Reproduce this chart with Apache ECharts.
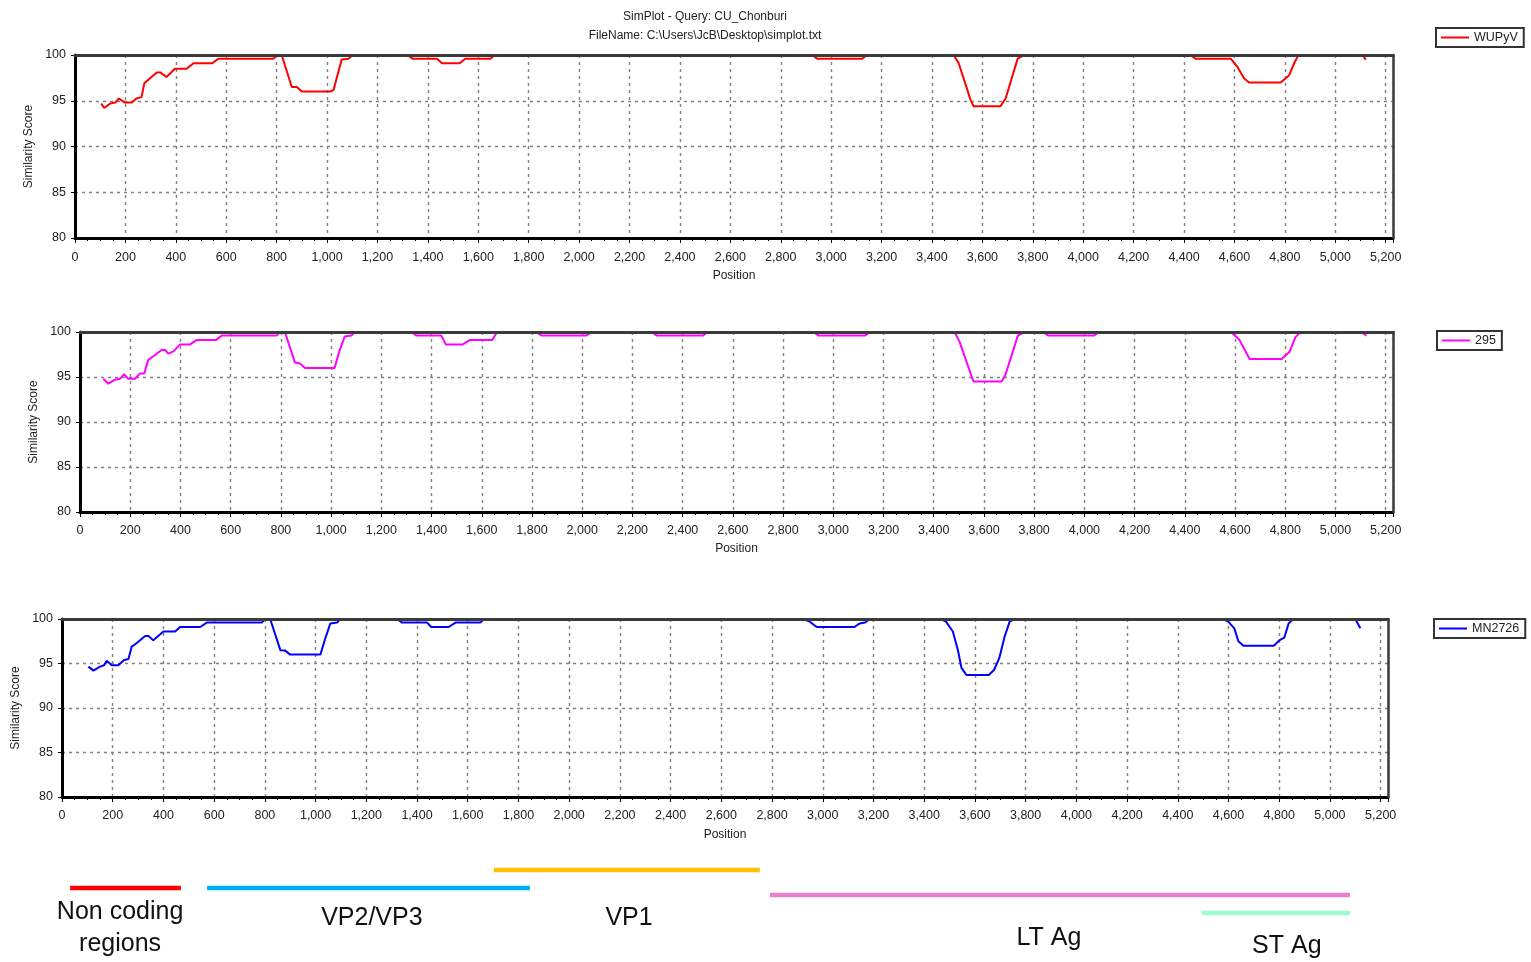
<!DOCTYPE html>
<html>
<head>
<meta charset="utf-8">
<script src="https://cdn.jsdelivr.net/npm/echarts@6/dist/echarts.min.js"></script>
<style>html,body{margin:0;padding:0;background:#fff}#c{width:1531px;height:962px}</style>
</head>
<body>
<div id="c"></div>
<script>
// ---------------- DATA ----------------
const titleText = 'SimPlot - Query: CU_Chonburi';
const fileText = 'FileName: C:\\Users\\JcB\\Desktop\\simplot.txt';
const seriesNames = ['WUPyV', '295', 'MN2726'];
const genomeLength = 5229;
const yMin = 80, yMax = 100, yStep = 5, xStep = 200;

const wupyvPos = [104,116,140,160,174,198,225,244,264,275,291,324,338,363,396,443,470,545,568,788,800,820,860,880,900,1013,1026,1058,1085,1102,1319,1339,1436,1456,1526,1548,1648,1661,1680,2924,2944,3123,3143,3486,3506,3553,3565,3672,3692,3740,3760,3775,4425,4445,4585,4612,4638,4658,4784,4817,4837,4852,4860,5108,5121];
const wupyvSim = [94.7,94.2,94.7,94.8,95.25,94.8,94.8,95.25,95.4,96.9,97.3,98.1,98.1,97.6,98.5,98.5,99.1,99.1,99.6,99.6,100,100,96.5,96.5,96.0,96.0,96.2,99.5,99.6,100,100,99.6,99.6,99.1,99.1,99.6,99.6,99.9,100,100,99.6,99.6,100,100,99.1,95.1,94.4,94.4,95.25,99.6,99.9,100,100,99.6,99.6,98.7,97.45,97.0,97.0,97.8,99.1,99.9,100,100,99.5];

const s295Pos = [93,113,139,159,175,192,219,239,256,272,292,325,339,352,372,398,437,464,541,564,783,796,816,856,876,896,1014,1032,1054,1081,1094,1320,1340,1439,1457,1523,1552,1642,1661,1818,1838,2016,2037,2277,2297,2482,2499,2921,2941,3126,3147,3483,3503,3558,3670,3685,3735,3755,3775,3836,3856,4038,4058,4584,4618,4658,4786,4817,4840,4857,4865,5102,5123];
const s295Sim = [94.8,94.26,94.7,94.8,95.3,94.8,94.8,95.4,95.4,96.9,97.3,98.0,98.0,97.6,97.85,98.6,98.6,99.1,99.1,99.6,99.6,100,100,96.6,96.5,96.0,96.0,97.8,99.5,99.6,100,100,99.6,99.6,98.6,98.6,99.1,99.1,100,100,99.6,99.6,100,100,99.6,99.6,100,100,99.6,99.6,100,100,98.9,94.5,94.5,95.2,99.6,99.9,100,100,99.6,99.6,100,100,99.1,97.0,97.0,97.8,99.4,99.9,100,100,99.6];

const mn2726Pos = [104,124,150,166,176,196,222,245,262,275,295,328,341,360,400,446,466,545,571,788,801,821,861,880,900,1019,1038,1058,1085,1097,1321,1341,1440,1456,1525,1552,1650,1663,2921,2949,2976,3125,3146,3166,3186,3465,3486,3513,3533,3547,3567,3655,3676,3696,3717,3737,3757,4579,4599,4623,4639,4659,4779,4800,4820,4837,4856,5100,5120];
const mn2726Sim = [94.65,94.2,94.65,94.8,95.3,94.8,94.8,95.4,95.5,96.9,97.3,98.1,98.1,97.6,98.6,98.6,99.1,99.1,99.6,99.6,100,100,96.5,96.45,96.0,96.0,97.8,99.5,99.6,100,100,99.6,99.6,99.1,99.1,99.6,99.6,100,100,99.7,99.1,99.1,99.5,99.6,100,100,99.7,98.6,96.5,94.5,93.7,93.7,94.3,95.6,98.0,99.7,100,100,99.7,98.95,97.5,97.0,97.0,97.6,97.9,99.5,100,100,98.95];

const regionNames = ['Non coding\nregions', 'VP2/VP3', 'VP1', 'LT Ag', 'ST Ag'];
const regionStart = [32, 572, 1703, 2792, 4495];
const regionEnd   = [469, 1845, 2752, 5079, 5079];

// ---------------- LAYOUT / STYLE ----------------
const lineColors = ['#ff0000', '#ff00ff', '#0000ff'];
const panels = [
  {left: 75, top: 55,  width: 1318, height: 183, legendLeft: 1436, legendTop: 28, labelMargin: 13, nameGap: 32},
  {left: 80, top: 332, width: 1313, height: 180, legendLeft: 1437, legendTop: 331, labelMargin: 12, nameGap: 31},
  {left: 62, top: 619, width: 1326, height: 178, legendLeft: 1434, legendTop: 619, labelMargin: 12, nameGap: 32}
];
const regionColors = ['#ff0000', '#00b0f0', '#ffc000', '#e97fcb', '#9ffbd0'];
const regionBarOffset = [28, 28, 10, 35, 53];      // px below annotation top
const regionLabelPos = [229, 1222, 2236, 3892, 4830];
const regionLabelOffset = [68, 58, 58, 78, 86];
const FONT = 'Liberation Sans, Arial, sans-serif';

const seriesData = [
  wupyvPos.map((p, k) => [p, wupyvSim[k]]),
  s295Pos.map((p, k) => [p, s295Sim[k]]),
  mn2726Pos.map((p, k) => [p, mn2726Sim[k]])
];

const grids = [], xAxes = [], yAxes = [], series = [], legends = [];
const gridLine = {show: true, lineStyle: {color: '#808080', type: [3, 4], width: 1.4}};
const fmt = v => Number(v).toLocaleString('en-US');

panels.forEach((p, i) => {
  grids.push({left: p.left, top: p.top, width: p.width, height: p.height, show: false});
  xAxes.push({
    type: 'value', gridIndex: i, min: 0, max: genomeLength, interval: xStep, position: 'bottom',
    name: 'Position', nameLocation: 'middle', nameGap: p.nameGap,
    nameTextStyle: {fontSize: 12, color: '#222', fontFamily: FONT},
    axisLine: {show: true, onZero: false, lineStyle: {color: '#000', width: 3}},
    axisTick: {show: true, length: 5, lineStyle: {color: '#000', width: 1}},
    minorTick: {show: true, splitNumber: 4, length: 3, lineStyle: {color: '#000'}},
    axisLabel: {formatter: fmt, showMaxLabel: false, margin: p.labelMargin, fontSize: 12.5, color: '#222', fontFamily: FONT},
    splitLine: gridLine
  });
  xAxes.push({
    type: 'value', gridIndex: i, min: 0, max: genomeLength, position: 'top',
    axisLine: {show: true, onZero: false, lineStyle: {color: '#3a3a3a', width: 3}},
    axisTick: {show: false}, axisLabel: {show: false}, splitLine: {show: false}, zlevel: 1, z: 10
  });
  yAxes.push({
    type: 'value', gridIndex: i, min: yMin, max: yMax, interval: yStep, position: 'left',
    name: 'Similarity Score', nameLocation: 'middle', nameGap: 40,
    nameTextStyle: {fontSize: 12, color: '#222', fontFamily: FONT},
    axisLine: {show: true, onZero: false, lineStyle: {color: '#000', width: 3}},
    axisTick: {show: true, length: 4, lineStyle: {color: '#000'}},
    axisLabel: {margin: 9, fontSize: 12.5, color: '#222', fontFamily: FONT},
    splitLine: gridLine
  });
  yAxes.push({
    type: 'value', gridIndex: i, min: yMin, max: yMax, position: 'right',
    axisLine: {show: true, onZero: false, lineStyle: {color: '#3a3a3a', width: 2.5}},
    axisTick: {show: false}, axisLabel: {show: false}, splitLine: {show: false}, zlevel: 1, z: 10
  });
  series.push({
    name: seriesNames[i], type: 'line', xAxisIndex: 2 * i, yAxisIndex: 2 * i,
    data: seriesData[i], showSymbol: false, symbol: 'none',
    lineStyle: {color: lineColors[i], width: 2}, itemStyle: {color: lineColors[i]}, z: 2
  });
  legends.push({
    data: [seriesNames[i]], left: p.legendLeft, top: p.legendTop, orient: 'horizontal',
    icon: 'rect', itemWidth: 28, itemHeight: 2, itemGap: 4,
    padding: [3, 6, 3, 5], borderColor: '#333', borderWidth: 2, selectedMode: false,
    textStyle: {fontSize: 12.5, color: '#222', fontFamily: FONT}
  });
});

// annotation track grid
grids.push({left: 62, top: 860, width: 1326, height: 102, show: false});
xAxes.push({type: 'value', gridIndex: 3, min: 0, max: genomeLength, show: false});
yAxes.push({type: 'value', gridIndex: 3, min: 0, max: 102, inverse: true, show: false});

series.push({
  type: 'custom', xAxisIndex: 6, yAxisIndex: 6, silent: true, clip: false,
  encode: {x: [0, 1], y: 2},
  data: regionStart.map((s, k) => [s, regionEnd[k], regionBarOffset[k], k]),
  renderItem: (params, api) => {
    const a = api.coord([api.value(0), api.value(2)]);
    const b = api.coord([api.value(1), api.value(2)]);
    return {type: 'line', shape: {x1: a[0], y1: a[1], x2: b[0], y2: b[1]},
            style: {stroke: regionColors[api.value(3)], lineWidth: 4.5}};
  }
});
series.push({
  type: 'custom', xAxisIndex: 6, yAxisIndex: 6, silent: true, clip: false,
  encode: {x: 0, y: 1},
  data: regionLabelPos.map((x, k) => [x, regionLabelOffset[k], k]),
  renderItem: (params, api) => {
    const c = api.coord([api.value(0), api.value(1)]);
    return {type: 'text', x: c[0], y: c[1],
            style: {text: regionNames[api.value(2)], fill: '#111', fontSize: 25, fontFamily: FONT,
                    align: 'center', verticalAlign: 'middle', lineHeight: 32}};
  }
});

const chart = echarts.init(document.getElementById('c'), null, {renderer: 'canvas'});
chart.setOption({
  animation: false,
  backgroundColor: '#fff',
  textStyle: {fontFamily: FONT},
  graphic: [
    {type: 'text', x: 705, y: 17, style: {text: titleText, align: 'center', verticalAlign: 'middle', fontSize: 12, fill: '#222', fontFamily: FONT}},
    {type: 'text', x: 705, y: 36, style: {text: fileText, align: 'center', verticalAlign: 'middle', fontSize: 12, fill: '#222', fontFamily: FONT}}
  ],
  grid: grids,
  xAxis: xAxes,
  yAxis: yAxes,
  legend: legends,
  series: series
});
</script>
</body>
</html>
